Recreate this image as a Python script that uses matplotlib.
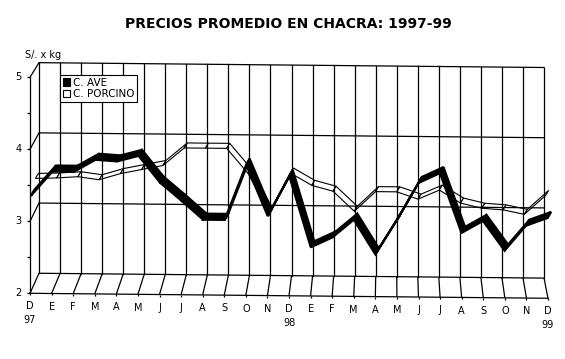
import matplotlib
matplotlib.use("Agg")
import matplotlib.pyplot as plt
import matplotlib.transforms as mtransforms
from matplotlib.patches import Polygon, Patch
import numpy as np

# datos (S/. x kg), dic 1997 - dic 1999
meses = ["D", "E", "F", "M", "A", "M", "J", "J", "A", "S", "O", "N",
         "D", "E", "F", "M", "A", "M", "J", "J", "A", "S", "O", "N", "D"]
anios = {0: "97", 12: "98", 24: "99"}
c_ave = [3.33, 3.67, 3.67, 3.84, 3.82, 3.90, 3.53, 3.28, 3.02, 3.02, 3.79, 3.08,
         3.64, 2.65, 2.79, 3.04, 2.56, 3.04, 3.56, 3.70, 2.87, 3.04, 2.63, 2.98, 3.09]
c_porcino = [3.45, 3.46, 3.48, 3.44, 3.53, 3.59, 3.65, 3.90, 3.90, 3.90, 3.55, 3.00,
             3.56, 3.39, 3.31, 3.03, 3.31, 3.31, 3.21, 3.34, 3.16, 3.09, 3.07, 3.01, 3.28]
yticks = [2, 3, 4, 5]

W, H = 565, 359
LW = 0.9
fig = plt.figure(figsize=(W / 100, H / 100), dpi=100)
ax = fig.add_axes([30 / W, 1 - 293 / H, 518 / W, 216 / H])
ax.set_xlim(0, 24)
ax.set_ylim(2, 5)
ax.axis("off")

ident = mtransforms.IdentityTransform()
skew = mtransforms.Affine2D().skew_deg(0, -0.55)
VX, VY = 390, H + 508  # punto de fuga (px)


def tr(d):
    # d = profundidad (0 frente, 1 fondo)
    s = 1 - 0.025 * d
    return ax.transData + skew + mtransforms.Affine2D().translate(-VX, -VY).scale(s).translate(VX, VY)


def seg(p, q, **kw):
    ax.plot([p[0], q[0]], [p[1], q[1]], transform=ident, color="k", lw=LW,
            clip_on=False, solid_capstyle="butt", **kw)


n = len(meses)
# pared del fondo
for v in yticks:
    ax.plot([0, n - 1], [v, v], transform=tr(1), color="k", lw=LW, clip_on=False)
for i in range(n):
    ax.plot([i, i], [2, 5], transform=tr(1), color="k", lw=LW, clip_on=False)
    seg(tr(0).transform((i, 2)), tr(1).transform((i, 2)))
    p = tr(0).transform((i, 2))
    seg(p, (p[0], p[1] - 2))
# pared izquierda
for v in yticks[1:]:
    seg(tr(0).transform((0, v)), tr(1).transform((0, v)))
ax.plot([0, n - 1], [2, 2], transform=tr(0), color="k", lw=LW, clip_on=False)
ax.plot([0, 0], [2, 5], transform=tr(0), color="k", lw=LW, clip_on=False)
for v in np.arange(2, 5.01, 0.5):
    p = tr(0).transform((0, v))
    seg((p[0] - 3, p[1]), p)
for v in yticks:
    ax.annotate(str(v), (0, v), xycoords=tr(0), xytext=(-6, 0), textcoords="offset points",
                ha="right", va="center", fontsize=7)

for i, m in enumerate(meses):
    ax.annotate(m, (i, 2), xycoords=tr(0), xytext=(0, -9.5), textcoords="offset points",
                ha="center", va="center", fontsize=7)
    if i in anios:
        ax.annotate(anios[i], (i, 2), xycoords=tr(0), xytext=(0, -19.5), textcoords="offset points",
                    ha="center", va="center", fontsize=7)


def ribbon(vals, d, off, face, lw):
    i = np.arange(len(vals))
    front = tr(d).transform(np.column_stack([i, vals]))
    back = front + np.array(off)
    for k in range(len(vals) - 1):
        quad = [front[k], front[k + 1], back[k + 1], back[k]]
        ax.add_patch(Polygon(quad, closed=True, facecolor=face, edgecolor="k", lw=lw,
                             transform=ident, clip_on=False, joinstyle="miter"))


ribbon(c_porcino, 0.6, (3, 5), "white", 0.8)
ribbon(c_ave, 0.1, (3.5, 6), "black", 1.6)

handles = [Patch(facecolor="black", edgecolor="black", lw=0.8, label="C. AVE"),
           Patch(facecolor="white", edgecolor="black", lw=0.8, label="C. PORCINO")]
leg = fig.legend(handles=handles, loc="upper left", bbox_to_anchor=(60 / W, 1 - 75 / H),
                 fontsize=7.5, frameon=True, fancybox=False, handlelength=0.7, handleheight=0.7,
                 handletextpad=0.3, borderpad=0.25, labelspacing=0.15, borderaxespad=0)
leg.get_frame().set_edgecolor("black")
leg.get_frame().set_linewidth(0.8)
leg.get_frame().set_alpha(1)

fig.text(288 / W, 1 - 24 / H, "PRECIOS PROMEDIO EN CHACRA: 1997-99", ha="center", va="center",
         fontsize=10, fontweight="bold")
fig.text(43 / W, 1 - 55 / H, "S/. x kg", ha="center", va="center", fontsize=7)

fig.savefig("out.png", dpi=100, facecolor="white")
